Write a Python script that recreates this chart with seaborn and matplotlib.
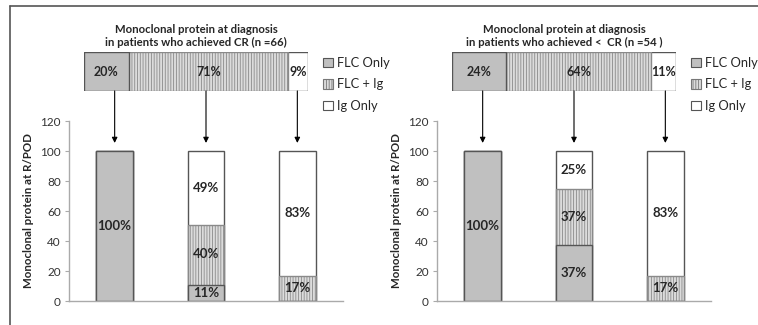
import numpy as np
import pandas as pd
import seaborn as sns
import matplotlib.pyplot as plt
from matplotlib.patches import Patch
from matplotlib.lines import Line2D
import matplotlib.transforms as mtransforms

sns.set_style("white")
plt.rcParams['font.family'] = ['Lato', 'DejaVu Sans']
plt.rcParams['hatch.linewidth'] = 0.6

# data
groups = ['FLC Only', 'FLC + Ig', 'Ig Only']
cr_diag = [20, 71, 9]
lt_diag = [24, 64, 11]
cr_flc_only = [100, 11, 0]
cr_flc_ig = [0, 40, 17]
cr_ig_only = [0, 49, 83]
lt_flc_only = [100, 37, 0]
lt_flc_ig = [0, 37, 17]
lt_ig_only = [0, 25, 83]
titles = ['Monoclonal protein at diagnosis\nin patients who achieved CR (n =66)',
          'Monoclonal protein at diagnosis\nin patients who achieved <  CR (n =54 )']
ylabel = 'Monoclonal protein at R/POD'

W, H = 758, 325
fills = ['#c0c0c0', '#dcdcdc', 'white']
hatches = [None, '||||||', None]
edges = ['#555555', '#8a8a8a', '#555555']


def fbox(x0, y0, x1, y1):
    return [x0 / W, 1 - y1 / H, (x1 - x0) / W, (y1 - y0) / H]


fig = plt.figure(figsize=(W / 100, H / 100), dpi=100)

# outer frame
fig.add_artist(Line2D([10 / W, 10 / W], [0, 1 - 6 / H], color='#555555', lw=1.2))
fig.add_artist(Line2D([10 / W, 1], [1 - 6 / H, 1 - 6 / H], color='#555555', lw=1.2))

panels = [
    (cr_diag, [cr_flc_only, cr_flc_ig, cr_ig_only], 0),
    (lt_diag, [lt_flc_only, lt_flc_ig, lt_ig_only], 368),
]

for (diag, stacks, dx), title in zip(panels, titles):
    # top stacked bar (diagnosis)
    axt = fig.add_axes(fbox(84 + dx, 52, 308 + dx, 91))
    cum = np.cumsum(diag) / np.sum(diag) * 100
    for k in [2, 1, 0]:
        n0 = len(axt.patches)
        sns.barplot(x=[cum[k]], y=['d'], orient='h', width=1, color=fills[k],
                    saturation=1, edgecolor=edges[k], linewidth=1, ax=axt)
        for p in axt.patches[n0:]:
            if hatches[k]:
                p.set_hatch(hatches[k])
    starts = np.concatenate([[0], cum[:-1]])
    for s, e, v in zip(starts, cum, diag):
        axt.text((s + e) / 2, 0, f'{v}%', ha='center', va='center',
                 fontsize=9, fontweight='bold')
    axt.set_xlim(0, 100)
    axt.set_ylim(0.5, -0.5)
    axt.axis('off')
    axt.set_title(title, fontsize=8.2, fontweight='bold', pad=4, linespacing=1.3)

    # legend
    handles = [Patch(facecolor=fills[k], edgecolor=edges[k] if k != 1 else '#777777',
                     hatch=hatches[k], lw=0.8) for k in range(3)]
    fig.legend(handles=handles, labels=groups, loc='upper left',
               bbox_to_anchor=((318 + dx) / W, 1 - 52 / H), frameon=False,
               fontsize=9.3, handlelength=0.75, handleheight=0.75,
               handletextpad=0.35, labelspacing=0.72, borderaxespad=0)

    # bottom stacked bars (R/POD)
    ax = fig.add_axes(fbox(69 + dx, 121, 343 + dx, 301))
    cats = ['a', 'b', 'c']
    arr = np.array(stacks, dtype=float)
    cumb = np.cumsum(arr, axis=0) / arr.sum(axis=0) * 100
    for k in [2, 1, 0]:
        n0 = len(ax.patches)
        sns.barplot(x=cats, y=cumb[k], width=0.4, color=fills[k], saturation=1,
                    edgecolor=edges[k], linewidth=1, ax=ax)
        for p in ax.patches[n0:]:
            if hatches[k]:
                p.set_hatch(hatches[k])
    for i in range(3):
        for k in range(3):
            v = stacks[k][i]
            if v > 0:
                lo = cumb[k - 1][i] if k > 0 else 0
                ax.text(i, (lo + cumb[k][i]) / 2, f'{v}%', ha='center',
                        va='center', fontsize=9.5, fontweight='bold')
    ax.set_ylim(0, 120)
    ax.set_yticks(np.arange(0, 121, 20))
    ax.set_xticks([])
    ax.set_xlim(-0.5, 2.5)
    ax.set_ylabel(ylabel, fontsize=8.3, fontweight='bold', labelpad=4)
    ax.tick_params(axis='y', labelsize=8.5, length=3, color='#aaaaaa',
                   labelcolor='#333333', pad=3, left=True, direction='out')
    for sp in ['top', 'right']:
        ax.spines[sp].set_visible(False)
    for sp in ['left', 'bottom']:
        ax.spines[sp].set_color('#aaaaaa')
        ax.spines[sp].set_linewidth(1)

    # arrows from top bar to each bottom bar
    trans = mtransforms.blended_transform_factory(ax.transData, ax.transAxes)
    for i in range(3):
        ax.annotate('', xy=(i, 0.878), xytext=(i, 1.167), xycoords=trans,
                    textcoords=trans,
                    arrowprops=dict(arrowstyle='-|>', color='black', lw=0.8,
                                    mutation_scale=8, shrinkA=0, shrinkB=0),
                    annotation_clip=False)

fig.savefig('out.png', dpi=100)
